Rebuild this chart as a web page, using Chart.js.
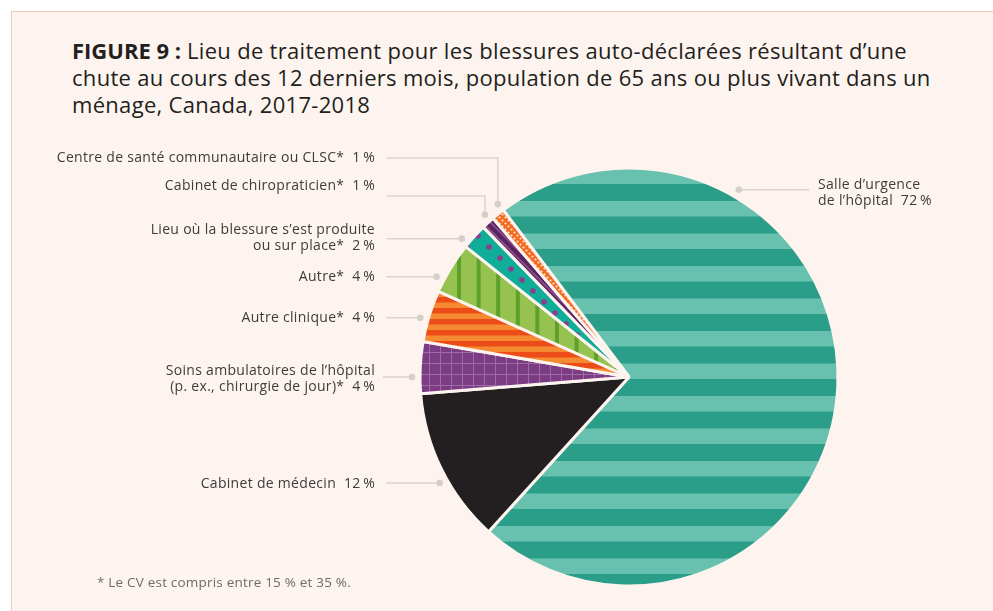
<!DOCTYPE html>
<html lang="fr">
<head>
<meta charset="utf-8">
<script src="https://cdn.jsdelivr.net/npm/chart.js@4.4.1/dist/chart.umd.min.js"></script>
<style>
  html, body { margin: 0; padding: 0; background: #fff; }
  #page { position: relative; width: 993px; height: 611px; overflow: hidden; }
  #frame { position: absolute; left: 11px; top: 11px; right: -2px; bottom: -2px;
           background: #fdf4ef; border-top: 1.5px solid #f5cbb8; border-left: 1.5px solid #f5cbb8; }
  #title { position: absolute; left: 72px; top: 37px; width: 910px; font: 22px "Open Sans", sans-serif;
           letter-spacing: 0.3px; line-height: 27px; color: #231f20; white-space: nowrap; }
  #title b { font-weight: 700; letter-spacing: 0; }
  #note { position: absolute; left: 97px; top: 573px; font: 13.5px "Open Sans", sans-serif;
          letter-spacing: 0.2px; color: #6b6b6b; }
  #chart { position: absolute; left: 0; top: 0; }
</style>
</head>
<body>
<div id="page">
  <div id="frame"></div>
  <div id="title"><b>FIGURE 9 :</b> Lieu de traitement pour les blessures auto-déclarées résultant d’une<br>chute au cours des 12 derniers mois, population de 65 ans ou plus vivant dans un<br>ménage, Canada, 2017-2018</div>
  <canvas id="chart" width="993" height="611"></canvas>
  <div id="note">* Le CV est compris entre 15 % et 35 %.</div>
</div>
<script>
// Données (pourcentages)
const categories = [
  'Salle d’urgence\nde l’hôpital',
  'Cabinet de médecin',
  'Soins ambulatoires de l’hôpital\n(p. ex., chirurgie de jour)*',
  'Autre clinique*',
  'Autre*',
  'Lieu où la blessure s’est produite\nou sur place*',
  'Cabinet de chiropraticien*',
  'Centre de santé communautaire ou CLSC*'
];
const values = [72, 12, 4, 4, 4, 2, 1, 1];

// Position des étiquettes (mise en page seulement)
// at = fraction de l'angle de la tranche où se pose le point du trait de rappel
const labelLayout = [
  { x: 818, y: 185, align: 'left',  at: 0.26, lineEnd: 809 },
  { x: 375, y: 484, align: 'right', at: 0.43, lineEnd: 386 },
  { x: 375, y: 371, align: 'right', at: 0.32, lineEnd: 383 },
  { x: 375, y: 318, align: 'right', at: 0.42, lineEnd: 386 },
  { x: 375, y: 277, align: 'right', at: 0.23, lineEnd: 386 },
  { x: 375, y: 230, align: 'right', at: 0.14, lineEnd: 387 },
  { x: 375, y: 186, align: 'right', at: 0.72, lineEnd: 387, lineY: 196 },
  { x: 375, y: 158, align: 'right', at: 0.95, lineEnd: 387, lineY: 158 }
];

function tile(w, h, draw) {
  const c = document.createElement('canvas');
  c.width = w; c.height = h;
  const g = c.getContext('2d');
  draw(g, w, h);
  return g.createPattern(c, 'repeat');
}

// Motifs de remplissage
const fills = [
  // rayures horizontales vertes
  tile(10, 65, g => {
    g.fillStyle = '#2b9e8a'; g.fillRect(0, 0, 10, 65);
    g.fillStyle = '#68c1ae'; g.fillRect(0, 6, 10, 15.5); g.fillRect(0, 38.5, 10, 15.5);
  }),
  '#231f20',
  // quadrillage violet
  tile(11, 11, g => {
    g.fillStyle = '#7c3c84'; g.fillRect(0, 0, 11, 11);
    g.fillStyle = '#9d6ca4'; g.fillRect(0, 0, 11, 1); g.fillRect(0, 0, 1, 11);
  }),
  // rayures orange
  tile(4, 11, g => {
    g.fillStyle = '#f58a33'; g.fillRect(0, 0, 4, 11);
    g.fillStyle = '#ec4c17'; g.fillRect(0, 0, 4, 5.5);
  }),
  // rayures verticales vert clair
  tile(98, 4, g => {
    g.fillStyle = '#96c350'; g.fillRect(0, 0, 98, 4);
    g.fillStyle = '#5da02c';
    for (let k = 0; k < 5; k++) {
      const x = (65 + k * 19.6) % 98;
      g.fillRect(x, 0, 4, 4);
      if (x + 4 > 98) g.fillRect(x - 98, 0, 4, 4);
    }
  }),
  // pois violets sur turquoise
  tile(22, 22, g => {
    g.fillStyle = '#10ad99'; g.fillRect(0, 0, 22, 22);
    g.fillStyle = '#8d3d8e';
    g.beginPath(); g.arc(5, 5, 2.8, 0, Math.PI * 2); g.fill();
    g.beginPath(); g.arc(16, 16, 2.8, 0, Math.PI * 2); g.fill();
  }),
  // rayures diagonales violettes
  tile(8, 8, g => {
    g.fillStyle = '#8e4e8e'; g.fillRect(0, 0, 8, 8);
    g.strokeStyle = '#5b2461'; g.lineWidth = 4;
    [-8, 0, 8].forEach(c => { g.beginPath(); g.moveTo(-2, -2 + c); g.lineTo(10, 10 + c); g.stroke(); });
  }),
  // petits pois sur orange
  tile(6, 6, g => {
    g.fillStyle = '#f26b21'; g.fillRect(0, 0, 6, 6);
    g.fillStyle = '#fde6d6';
    g.beginPath(); g.arc(1.5, 1.5, 1.1, 0, Math.PI * 2); g.fill();
    g.beginPath(); g.arc(4.5, 4.5, 1.1, 0, Math.PI * 2); g.fill();
  })
];

// Traits de rappel et étiquettes
const leaderPlugin = {
  id: 'leaders',
  afterDatasetsDraw(chart) {
    const g = chart.ctx;
    const arcs = chart.getDatasetMeta(0).data;
    g.save();
    labelLayout.forEach((lay, i) => {
      const arc = arcs[i];
      const a = arc.startAngle + (arc.endAngle - arc.startAngle) * lay.at;
      const r = arc.outerRadius + 8;
      const px = arc.x + Math.cos(a) * r;
      const py = arc.y + Math.sin(a) * r;

      g.strokeStyle = '#dbd3ce';
      g.lineWidth = 1.5;
      g.beginPath();
      if (lay.lineY != null) {
        g.moveTo(lay.lineEnd, lay.lineY);
        g.lineTo(px, lay.lineY);
        g.lineTo(px, py);
      } else {
        g.moveTo(lay.lineEnd, py);
        g.lineTo(px, py);
      }
      g.stroke();
      g.fillStyle = '#d6cec9';
      g.beginPath(); g.arc(px, py, 3.3, 0, Math.PI * 2); g.fill();

      const lines = (categories[i] + '  ' + values[i] + '\u2009%').split('\n');
      g.fillStyle = '#3c3c3c';
      g.font = '14px "Open Sans", sans-serif';
      g.letterSpacing = '0.3px';
      g.textAlign = lay.align;
      g.textBaseline = 'middle';
      lines.forEach((t, j) => g.fillText(t, lay.x, lay.y + j * 16.5));
    });
    g.restore();
  }
};

const ctx = document.getElementById('chart');
new Chart(ctx, {
  type: 'pie',
  data: {
    labels: categories,
    datasets: [{
      data: values,
      backgroundColor: fills,
      borderColor: '#fdf4ef',
      borderWidth: 3,
      radius: 209
    }]
  },
  options: {
    responsive: false,
    animation: false,
    rotation: -37,
    layout: { padding: { left: 425, right: 160, top: 160, bottom: 17 } },
    plugins: {
      legend: { display: false },
      tooltip: { enabled: false },
      title: { display: false }
    }
  },
  plugins: [leaderPlugin]
});
</script>
</body>
</html>
